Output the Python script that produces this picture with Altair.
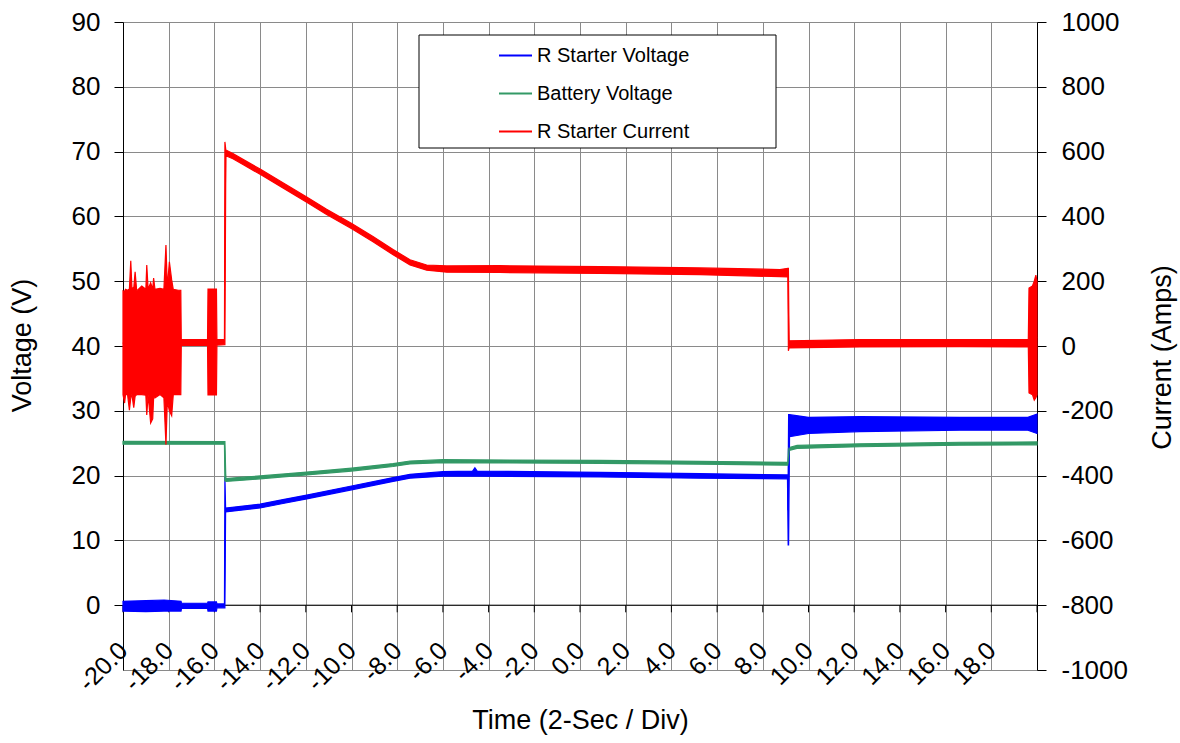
import altair as alt
import pandas as pd

SERIES = ["R Starter Voltage", "Battery Voltage", "R Starter Current"]
COLORS = ["#0000ff", "#339966", "#ff0000"]

X_TICKS = [-20, -18, -16, -14, -12, -10, -8, -6, -4, -2, 0, 2, 4, 6, 8, 10, 12, 14, 16, 18, 20]
V_TICKS = [0, 10, 20, 30, 40, 50, 60, 70, 80, 90]
A_TICKS = [-1000, -800, -600, -400, -200, 0, 200, 400, 600, 800, 1000]

# R Starter Voltage (V): time, lower and upper edge of the noisy trace
rsv_t = [-20.00, -19.00, -18.20, -17.46, -17.44, -16.30, -16.28, -15.91, -15.89, -15.56,
         -15.54, -15.51, -14.75, -14.00, -13.00, -11.96, -10.00, -8.18, -7.44, -6.00,
         -4.70, -4.60, -4.50, 0.88, 5.25, 9.08, 9.11, 9.13, 9.17, 10.00,
         12.25, 16.63, 19.60, 20.00]
rsv_lo = [-0.9, -1.0, -0.9, -0.9, -0.5, -0.5, -0.9, -0.9, -0.4, -0.4,
          -0.4, 14.4, 14.7, 15.0, 15.7, 16.4, 17.8, 19.1, 19.6, 19.9,
          19.9, 19.9, 19.9, 19.8, 19.6, 19.5, 9.3, 9.3, 26.0, 26.5,
          26.8, 27.0, 27.0, 26.5]
rsv_hi = [0.6, 0.7, 0.8, 0.6, 0.3, 0.3, 0.5, 0.5, 0.2, 0.2,
          19.8, 15.0, 15.3, 15.6, 16.3, 17.0, 18.4, 19.7, 20.2, 20.6,
          20.7, 21.2, 20.7, 20.5, 20.3, 20.1, 20.0, 29.4, 29.4, 29.0,
          29.1, 29.0, 29.0, 29.5]

# Battery Voltage (V)
bat_t = [-20.00, -15.56, -15.54, -15.50, -14.75, -14.00, -11.96, -10.00, -8.18, -7.44,
         -6.00, 0.88, 5.25, 9.10, 9.12, 9.16, 9.50, 12.25, 16.63, 20.00]
bat_lo = [24.85, 24.85, 19.20, 19.10, 19.30, 19.50, 20.10, 20.70, 21.40, 21.80,
          22.00, 21.90, 21.75, 21.60, 21.60, 23.90, 24.20, 24.45, 24.70, 24.75]
bat_hi = [25.30, 25.25, 25.25, 19.55, 19.75, 19.95, 20.55, 21.15, 21.85, 22.25,
          22.45, 22.35, 22.20, 22.05, 24.15, 24.35, 24.65, 24.90, 25.15, 25.20]

# R Starter Current (Amps)
cur_t = [-20.00, -19.93, -19.89, -19.80, -19.72, -19.66, -19.61, -19.53, -19.47, -19.40,
         -19.18, -19.00, -18.96, -18.90, -18.79, -18.70, -18.66, -18.60, -18.38, -18.21,
         -18.12, -18.06, -17.97, -17.87, -17.80, -17.58, -17.47, -17.45, -16.30, -16.28,
         -15.91, -15.89, -15.56, -15.54, -15.50, -15.19, -14.75, -14.00, -13.00, -11.96,
         -11.09, -9.99, -9.06, -8.18, -7.44, -6.71, -5.83, -3.50, 0.88, 5.25,
         8.75, 9.10, 9.12, 9.15, 12.25, 16.63, 19.62, 19.65, 19.80, 19.88,
         19.95, 20.00]
cur_lo = [-150, -176, -150, -150, -198, -160, -150, -190, -155, -150,
          -150, -152, -213, -150, -238, -225, -160, -160, -150, -160,
          -305, -170, -200, -215, -150, -150, -150, 2, 3, -151,
          -151, 3, 4, 4, 587, 578, 560, 530, 488, 444,
          406, 362, 322, 282, 250, 234, 228, 227, 224, 220,
          214, 213, -15, -6, -3, -2, -3, -145, -150, -167,
          -160, -150]
cur_hi = [170, 168, 175, 172, 176, 263, 180, 178, 229, 170,
          185, 175, 250, 175, 195, 175, 210, 175, 178, 175,
          312, 180, 260, 204, 175, 172, 172, 20, 20, 176,
          176, 20, 20, 630, 605, 594, 576, 546, 504, 460,
          422, 378, 338, 298, 266, 250, 247, 248, 245, 241,
          236, 240, 240, 16, 20, 20, 20, 179, 185, 200,
          219, 200]


def frame(name, t, lo, hi):
    return pd.DataFrame({"t": t, "lo": lo, "hi": hi, "series": name})


df_rsv = frame(SERIES[0], rsv_t, rsv_lo, rsv_hi)
df_bat = frame(SERIES[1], bat_t, bat_lo, bat_hi)
df_cur = frame(SERIES[2], cur_t, cur_lo, cur_hi)
df_volt = pd.concat([df_rsv, df_bat], ignore_index=True)

FONT = "Liberation Sans"
GRID = "#8a8a8a"

x_scale = alt.Scale(domain=[-20, 20], nice=False, zero=False)
v_scale = alt.Scale(domain=[-10, 90], nice=False, zero=False)
a_scale = alt.Scale(domain=[-1000, 1000], nice=False, zero=False)
color_scale = alt.Scale(domain=SERIES, range=COLORS)

x_axis = alt.Axis(
    values=X_TICKS, title="Time (2-Sec / Div)", grid=True, gridColor=GRID, gridWidth=1,
    domain=False, ticks=False, tickSize=0, labelAngle=315, labelAlign="right",
    labelBaseline="middle", labelPadding=-24, labelOffset=0, labelFontSize=25,
    labelFont=FONT, labelColor="black",
    labelExpr="datum.value >= 20 ? '' : datum.value + '.0'",
    labelOverlap=False, labelFlush=False, labelBound=False,
    titleFont=FONT, titleFontSize=27, titleFontWeight="normal", titleColor="black",
    titleX=457, titleY=50, titleAlign="center", titleBaseline="middle",
)
v_axis = alt.Axis(
    orient="left", values=V_TICKS, grid=False, domainColor="black", domainWidth=1,
    tickColor="black", tickSize=9, tickWidth=1, labelFontSize=26, labelFont=FONT,
    labelColor="black", labelPadding=14, labelExpr="'' + datum.value",
    title="Voltage (V)", titleFont=FONT, titleFontSize=27, titleFontWeight="normal",
    titleColor="black", titleAngle=270, titleX=-101, titleY=323,
    titleAlign="center", titleBaseline="middle",
)
a_axis = alt.Axis(
    orient="right", values=A_TICKS, grid=True, gridColor=GRID, gridWidth=1,
    domainColor="black", domainWidth=1, tickColor="black", tickSize=9, tickWidth=1,
    labelFontSize=26, labelFont=FONT, labelColor="black", labelPadding=15,
    labelExpr="'' + datum.value",
    title="Current (Amps)", titleFont=FONT, titleFontSize=27, titleFontWeight="normal",
    titleColor="black", titleAngle=270, titleX=125, titleY=335,
    titleAlign="center", titleBaseline="middle",
)
legend = alt.Legend(
    title=None, orient="none", legendX=375, legendY=16, symbolType="stroke",
    symbolSize=1089, symbolStrokeWidth=2, labelFontSize=20, labelFont=FONT,
    labelColor="black", labelOffset=4, rowPadding=10, padding=0,
)

X = alt.X("t:Q", scale=x_scale, axis=x_axis)

box = alt.Chart(pd.DataFrame({"k": [0]})).mark_rect(
    fill="white", stroke="black", strokeWidth=1
).encode(x=alt.value(296), x2=alt.value(653), y=alt.value(13), y2=alt.value(126))

zero_rule = alt.Chart(pd.DataFrame({"k": [0]})).mark_rule(
    color="black", strokeWidth=1
).encode(y=alt.YDatum(0, scale=v_scale, axis=v_axis))

zero_ticks = alt.Chart(pd.DataFrame({"t": X_TICKS})).mark_rule(
    color="black", strokeWidth=1
).encode(x=X, y=alt.YDatum(0, scale=v_scale, axis=v_axis), y2=alt.Y2Datum(-1.1))


def band(df, col, scale, axis):
    return alt.Chart(df).mark_area(
        fill=col, stroke=col, strokeWidth=1.2, opacity=1
    ).encode(x=X, y=alt.Y("lo:Q", scale=scale, axis=axis), y2="hi:Q")


def mid_line(df, scale, axis):
    return alt.Chart(df).transform_calculate(
        mid="(datum.lo + datum.hi) / 2"
    ).mark_line(strokeWidth=1).encode(
        x=X,
        y=alt.Y("mid:Q", scale=scale, axis=axis),
        color=alt.Color("series:N", scale=color_scale, legend=legend),
    )


volt = alt.layer(
    box, zero_rule, zero_ticks,
    band(df_rsv, COLORS[0], v_scale, v_axis),
    band(df_bat, COLORS[1], v_scale, v_axis),
    mid_line(df_volt, v_scale, v_axis),
)
cur = alt.layer(
    band(df_cur, COLORS[2], a_scale, a_axis),
    mid_line(df_cur, a_scale, a_axis),
)

chart = alt.layer(volt, cur).resolve_scale(y="independent").properties(
    width=914, height=648,
    autosize=alt.AutoSizeParams(type="none"),
    padding={"left": 123, "top": 22, "right": 143, "bottom": 73},
    background="white",
).configure_view(stroke=None)

chart.save("out.html", embed_options={"renderer": "svg", "actions": False})
